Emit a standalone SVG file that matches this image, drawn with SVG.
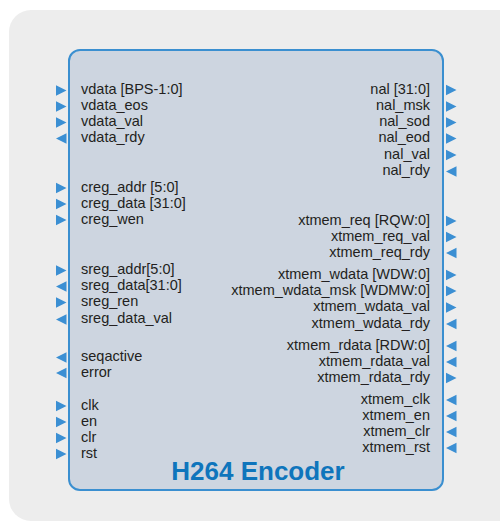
<svg xmlns="http://www.w3.org/2000/svg" width="500" height="522" viewBox="0 0 500 522">
<style>
.lbl{font-family:"Liberation Sans",Arial,sans-serif;font-size:14.5px;fill:#231f20}
.r{text-anchor:end}
.arr{fill:#3b8fd3}
.title{font-family:"Liberation Sans",Arial,sans-serif;font-size:26px;font-weight:bold;fill:#0f75bc;text-anchor:middle}
</style>
<defs>
<polygon id="in" points="0,-5.2 10.5,0 0,5.2"/>
<polygon id="out" points="10.5,-5.2 0,0 10.5,5.2"/>
</defs>
<rect x="9" y="10" width="511" height="511" rx="22" fill="#ededed"/>
<g id="encoder">
<rect x="69" y="50" width="374" height="440" rx="11" fill="#cdd5e0" stroke="#3a8fd0" stroke-width="2"/>
<text class="title" x="258" y="480">H264 Encoder</text>
</g>
<g id="ports-left">
<g class="lbl">
<text x="81" y="94">vdata [BPS-1:0]</text>
<text x="81" y="110">vdata_eos</text>
<text x="81" y="126">vdata_val</text>
<text x="81" y="142">vdata_rdy</text>
<text x="81" y="191.5">creg_addr [5:0]</text>
<text x="81" y="207.5">creg_data [31:0]</text>
<text x="81" y="223.5">creg_wen</text>
<text x="81" y="274">sreg_addr[5:0]</text>
<text x="81" y="290">sreg_data[31:0]</text>
<text x="81" y="306">sreg_ren</text>
<text x="81" y="323">sreg_data_val</text>
<text x="81" y="361">seqactive</text>
<text x="81" y="376.5">error</text>
<text x="81" y="409.5">clk</text>
<text x="81" y="425.5">en</text>
<text x="81" y="441.5">clr</text>
<text x="81" y="457.5">rst</text>
</g>
</g>
<g id="ports-right">
<g class="lbl r">
<text x="430" y="93.5">nal [31:0]</text>
<text x="430" y="110">nal_msk</text>
<text x="430" y="126">nal_sod</text>
<text x="430" y="142">nal_eod</text>
<text x="430" y="158.5">nal_val</text>
<text x="430" y="175">nal_rdy</text>
<text x="430" y="224.5">xtmem_req [RQW:0]</text>
<text x="430" y="240.5">xtmem_req_val</text>
<text x="430" y="256.5">xtmem_req_rdy</text>
<text x="430" y="278.5">xtmem_wdata [WDW:0]</text>
<text x="430" y="294.5">xtmem_wdata_msk [WDMW:0]</text>
<text x="430" y="311">xtmem_wdata_val</text>
<text x="430" y="327.5">xtmem_wdata_rdy</text>
<text x="430" y="349.5">xtmem_rdata [RDW:0]</text>
<text x="430" y="365.5">xtmem_rdata_val</text>
<text x="430" y="381.5">xtmem_rdata_rdy</text>
<text x="430" y="403.5">xtmem_clk</text>
<text x="430" y="419.5">xtmem_en</text>
<text x="430" y="435.5">xtmem_clr</text>
<text x="430" y="451.5">xtmem_rst</text>
</g>
</g>
<g id="connectors" class="arr">
<use href="#in" x="56" y="90.5"/>
<use href="#in" x="56" y="106.5"/>
<use href="#in" x="56" y="122.5"/>
<use href="#out" x="56" y="138.5"/>
<use href="#in" x="56" y="188"/>
<use href="#in" x="56" y="204"/>
<use href="#in" x="56" y="220"/>
<use href="#in" x="56" y="270.5"/>
<use href="#out" x="56" y="286.5"/>
<use href="#in" x="56" y="302.5"/>
<use href="#out" x="56" y="319.5"/>
<use href="#out" x="56" y="357.5"/>
<use href="#out" x="56" y="373"/>
<use href="#in" x="56" y="406"/>
<use href="#in" x="56" y="422"/>
<use href="#in" x="56" y="438"/>
<use href="#in" x="56" y="454"/>
<use href="#in" x="446" y="90"/>
<use href="#in" x="446" y="106.5"/>
<use href="#in" x="446" y="122.5"/>
<use href="#in" x="446" y="138.5"/>
<use href="#in" x="446" y="155"/>
<use href="#out" x="446" y="171.5"/>
<use href="#in" x="446" y="221"/>
<use href="#in" x="446" y="237"/>
<use href="#out" x="446" y="253"/>
<use href="#in" x="446" y="275"/>
<use href="#in" x="446" y="291"/>
<use href="#in" x="446" y="307.5"/>
<use href="#out" x="446" y="324"/>
<use href="#out" x="446" y="346"/>
<use href="#out" x="446" y="362"/>
<use href="#in" x="446" y="378"/>
<use href="#out" x="446" y="400"/>
<use href="#out" x="446" y="416"/>
<use href="#out" x="446" y="432"/>
<use href="#out" x="446" y="448"/>
</g>
</svg>
